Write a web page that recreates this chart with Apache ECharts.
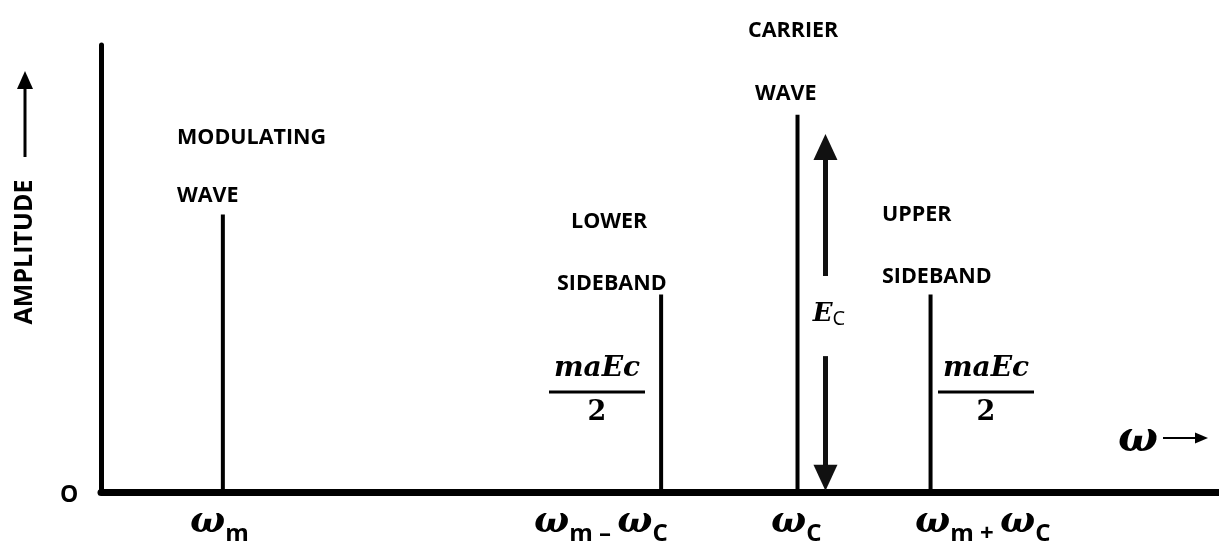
<!DOCTYPE html>
<html>
<head>
<meta charset="utf-8">
<script src="https://cdn.jsdelivr.net/npm/echarts@6/dist/echarts.min.js"></script>
<style>
  html, body { margin: 0; background: #fff; }
  #main { width: 1219px; height: 543px; }
</style>
</head>
<body>
<div id="main"></div>
<script>
// spectrum lines: frequency position (0-100) and amplitude (0-100)
const spikeNames = ['MODULATING WAVE', 'LOWER SIDEBAND', 'CARRIER WAVE', 'UPPER SIDEBAND']
const spikeFreq = [10.9, 50.1, 62.3, 74.2]
const spikeAmp = [62.1, 44.2, 84.4, 44.2]
// double arrow marking Ec next to the carrier
const ecArrowX = 64.8
const ecArrowUp = [48.3, 77.2]
const ecArrowDown = [30.4, 3.2]

const SANS = '"Open Sans", "DejaVu Sans", sans-serif'
const SERIF = '"DejaVu Serif", serif'

function label(text, left, y) {
  return {
    type: 'text', left: left, top: y - 10,
    style: { text: text, font: 'bold 21.5px ' + SANS, fill: '#000' }
  }
}

function omegaRich() {
  return {
    w: { fontFamily: SERIF, fontWeight: 'bold', fontStyle: 'italic', fontSize: 37, lineHeight: 44, verticalAlign: 'bottom' },
    s: { fontFamily: SANS, fontWeight: 'bold', fontSize: 24, lineHeight: 44, verticalAlign: 'bottom', padding: [0, 0, -5, 0] }
  }
}

function freqLabel(text, left) {
  return {
    type: 'text', left: left, top: 504,
    style: { text: text, rich: omegaRich(), fill: '#000' }
  }
}

function fraction(cx) {
  return [
    { type: 'text', x: cx, y: 369, style: { text: 'maEc', font: 'bold italic 28px ' + SERIF, fill: '#000', align: 'center', verticalAlign: 'middle' } },
    { type: 'line', shape: { x1: cx - 48, y1: 392, x2: cx + 48, y2: 392 }, style: { stroke: '#000', lineWidth: 3 } },
    { type: 'text', x: cx, y: 413, style: { text: '2', font: 'bold 27px ' + SERIF, fill: '#000', align: 'center', verticalAlign: 'middle' } }
  ]
}

const chart = echarts.init(document.getElementById('main'))
chart.setOption({
  animation: false,
  backgroundColor: '#fff',
  grid: { left: 101, right: 0, top: 45, bottom: 51 },
  xAxis: {
    type: 'value', min: 0, max: 100,
    axisLine: { show: true, lineStyle: { color: '#000', width: 7 } },
    axisTick: { show: false }, axisLabel: { show: false }, splitLine: { show: false }
  },
  yAxis: {
    type: 'value', min: 0, max: 100,
    axisLine: { show: true, lineStyle: { color: '#000', width: 5 } },
    axisTick: { show: false }, axisLabel: { show: false }, splitLine: { show: false }
  },
  series: [
    {
      type: 'bar',
      barWidth: 4,
      itemStyle: { color: '#000' },
      data: spikeFreq.map((x, i) => ({ name: spikeNames[i], value: [x, spikeAmp[i]] })),
      markLine: {
        silent: true,
        symbol: ['none', 'triangle'],
        symbolSize: [24, 26],
        label: { show: false },
        lineStyle: { color: '#111', width: 5, type: 'solid' },
        data: [
          [{ coord: [ecArrowX, ecArrowUp[0]] }, { coord: [ecArrowX, ecArrowUp[1]] }],
          [{ coord: [ecArrowX, ecArrowDown[0]] }, { coord: [ecArrowX, ecArrowDown[1]] }]
        ]
      }
    }
  ],
  graphic: [
    label('MODULATING', 177, 137),
    label('WAVE', 177, 195),
    label('LOWER', 571, 221),
    label('SIDEBAND', 557, 283),
    label('CARRIER', 748, 30),
    label('WAVE', 755, 93),
    label('UPPER', 882, 214),
    label('SIDEBAND', 882, 276),
    {
      type: 'text', left: 60, top: 484,
      style: { text: 'O', font: 'bold 23px ' + SANS, fill: '#000' }
    },
    {
      type: 'text', x: 25, y: 252, rotation: Math.PI / 2,
      style: { text: 'AMPLITUDE', font: 'bold 25px ' + SANS, fill: '#000', align: 'center', verticalAlign: 'middle' }
    },
    { type: 'line', shape: { x1: 25, y1: 157, x2: 25, y2: 86 }, style: { stroke: '#000', lineWidth: 3 } },
    { type: 'polygon', shape: { points: [[25, 71], [17, 89], [33, 89]] }, style: { fill: '#000' } },
    {
      type: 'text', x: 829, y: 312,
      style: { text: '{e|E}{c|C}', rich: {
        e: { fontFamily: SERIF, fontWeight: 'bold', fontStyle: 'italic', fontSize: 26, verticalAlign: 'bottom', lineHeight: 30 },
        c: { fontFamily: SANS, fontSize: 20, verticalAlign: 'bottom', lineHeight: 30, padding: [0, 0, -2, 0] }
      }, fill: '#000', align: 'center', verticalAlign: 'middle' }
    },
    ...fraction(597),
    ...fraction(986),
    {
      type: 'text', x: 1118, y: 440,
      style: { text: 'ω', font: 'bold italic 42px ' + SERIF, fill: '#000', verticalAlign: 'middle' }
    },
    { type: 'line', shape: { x1: 1163, y1: 438, x2: 1198, y2: 438 }, style: { stroke: '#000', lineWidth: 2 } },
    { type: 'polygon', shape: { points: [[1208, 438], [1195, 432.5], [1195, 443.5]] }, style: { fill: '#000' } },
    freqLabel('{w|ω}{s|m}', 190),
    freqLabel('{w|ω}{s|m – }{w|ω}{s|C}', 534),
    freqLabel('{w|ω}{s|C}', 771),
    freqLabel('{w|ω}{s|m + }{w|ω}{s|C}', 915)
  ]
})
</script>
</body>
</html>
